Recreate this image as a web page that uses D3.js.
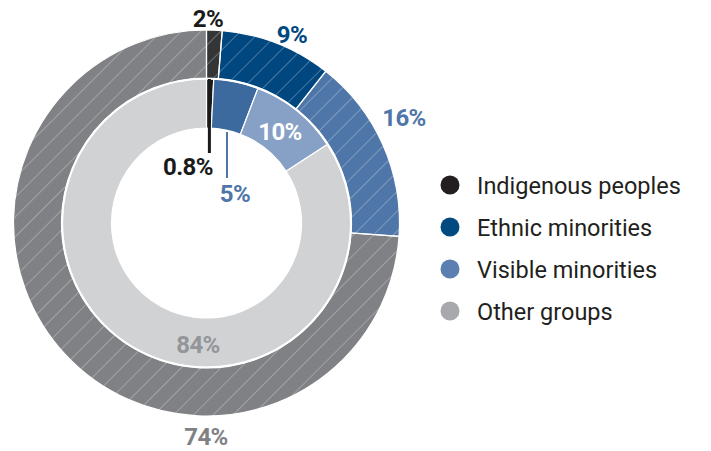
<!DOCTYPE html>
<html><head><meta charset="utf-8">
<script src="https://cdn.jsdelivr.net/npm/d3@7"></script>
<style>body{margin:0;background:#fff}svg{display:block}</style>
</head><body>
<svg id="c" width="711" height="451"></svg>
<script>
const categories = ["Indigenous peoples","Ethnic minorities","Visible minorities","Other groups"];
const outerValues = [1.3, 9.3, 15.5, 73.9];
const outerLabels = ["2%","9%","16%","74%"];
const innerNames = ["Indigenous","Group A","Group B","Other"];
const innerValues = [0.8, 5, 10, 84];
const innerLabels = ["0.8%","5%","10%","84%"];

const outerColors = ["#333536","#00467f","#4f76a8","#808184"];
const innerColors = ["#1a1a1a","#3d6a9e","#87a0c6","#d1d2d4"];
const legendColors = ["#231f20","#004a80","#5a7fb0","#a7a9ac"];

const svg = d3.select("#c");
const cx = 206.5, cy = 223;
const g = svg.append("g").attr("transform",`translate(${cx},${cy})`);

const defs = svg.append("defs");
const pat = defs.append("pattern").attr("id","hatch").attr("patternUnits","userSpaceOnUse")
  .attr("width",14).attr("height",14).attr("patternTransform","rotate(45)");
pat.append("line").attr("x1",0).attr("y1",0).attr("x2",0).attr("y2",14)
  .attr("stroke","#fff").attr("stroke-opacity",0.5).attr("stroke-width",1.1);

const pie = d3.pie().sort(null).value(d=>d);
const outerArc = d3.arc().innerRadius(145).outerRadius(193);
const innerArc = d3.arc().innerRadius(95).outerRadius(144);

const oa = pie(outerValues);
const ia = pie(innerValues);

g.selectAll(".o").data(oa).join("path").attr("class","o")
  .attr("d",outerArc).attr("fill",(d,i)=>outerColors[i]);
g.selectAll(".oh").data(oa).join("path").attr("class","oh")
  .attr("d",outerArc).attr("fill","url(#hatch)");
g.selectAll(".o2").data(oa).join("path").attr("class","o2")
  .attr("d",outerArc).attr("fill","none")
  .attr("stroke","#fff").attr("stroke-width",1.2);

g.selectAll(".i").data(ia).join("path").attr("class","i")
  .attr("d",innerArc).attr("fill",(d,i)=>innerColors[i])
  .attr("stroke","#fff").attr("stroke-width",1.2);
g.append("circle").attr("r",144.5).attr("fill","none").attr("stroke","#fff").attr("stroke-width",1.5);

// leader lines
const midX = a => Math.sin((a.startAngle+a.endAngle)/2);
g.append("line").attr("x1",95*midX(ia[0])+0.5).attr("x2",95*midX(ia[0])+0.5)
  .attr("y1",-144).attr("y2",-70).attr("stroke","#1a1a1a").attr("stroke-width",3);
g.append("line").attr("x1",20.5).attr("x2",20.5)
  .attr("y1",-91).attr("y2",-45).attr("stroke","#4f76a8").attr("stroke-width",2);

const font = "Roboto, sans-serif";
const lab = [
  {t:outerLabels[0], x:208, y:27, c:"#1a1a1a"},
  {t:outerLabels[1], x:292, y:43, c:"#00467f"},
  {t:outerLabels[2], x:404, y:126, c:"#4f76a8"},
  {t:outerLabels[3], x:206, y:445, c:"#808184"},
  {t:innerLabels[0], x:188, y:175, c:"#1a1a1a"},
  {t:innerLabels[1], x:235, y:202, c:"#4f76a8"},
  {t:innerLabels[2], x:280, y:140, c:"#ffffff"},
  {t:innerLabels[3], x:198, y:353, c:"#939598"}
];
svg.selectAll(".lab").data(lab).join("text").attr("class","lab")
  .attr("x",d=>d.x).attr("y",d=>d.y).attr("text-anchor","middle")
  .attr("font-family",font).attr("font-weight",700).attr("font-size",24)
  .attr("letter-spacing",-0.6).attr("fill",d=>d.c).text(d=>d.t);

const leg = svg.append("g");
const ly = d3.scalePoint().domain(categories).range([185,311]);
leg.selectAll("circle").data(categories).join("circle")
  .attr("cx",450).attr("cy",d=>ly(d)).attr("r",9.5).attr("fill",(d,i)=>legendColors[i]);
leg.selectAll("text").data(categories).join("text")
  .attr("x",477).attr("y",d=>ly(d)+8.5).attr("font-family",font).attr("font-size",23.5)
  .attr("fill","#231f20").text(d=>d);
</script>
</body></html>
